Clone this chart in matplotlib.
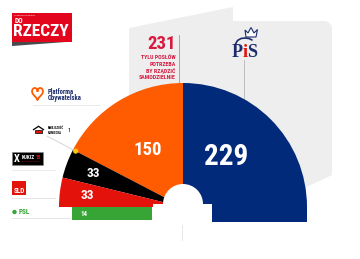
import numpy as np
import matplotlib
matplotlib.use('Agg')
import matplotlib.pyplot as plt
from matplotlib.patches import Wedge, Rectangle, Polygon, Circle

# ---- data ----
right_parties = ['PiS']
right_seats = [229]
left_parties = ['PO', "Kukiz'15", 'SLD']
left_seats = [150, 33, 33]
bar_parties = ['PSL']
bar_seats = [14]
mn_seats = [1]
majority = [231]
majority_caption = ['TYLU POSŁÓW', 'POTRZEBA', 'BY RZĄDZIĆ', 'SAMODZIELNIE']

# ---- style ----
BLUE = '#022a7a'
ORANGE = '#ff5b00'
BLACK = '#000000'
RED = '#e3120b'
GREEN = '#37a536'
CRIMSON = '#d7193f'
NAVY = '#1c2c6c'
PANEL = '#eeeeee'
SERIF = ['Liberation Serif', 'DejaVu Serif']
NARROW = ['Roboto Condensed', 'DejaVu Sans']

W, H = 360, 259
fig = plt.figure(figsize=(3.6, 2.59), dpi=100)
ax = fig.add_axes([0, 0, 1, 1])
ax.set_xlim(0, W)
ax.set_ylim(H, 0)
ax.axis('off')


def T(x, y, s, size, color, ha='left', bold=True, z=5):
    ax.text(x, y, s, color=color, fontsize=size, fontweight='bold' if bold else 'normal',
            family=NARROW, fontstretch='condensed', ha=ha, va='center', zorder=z)


# ---- gray panel ----
corner = [(324 + 8 * np.cos(a), 29 - 8 * np.sin(a)) for a in np.linspace(np.pi / 2, 0, 8)]
panel = [(129, 28), (233, 7), (233, 21)] + corner + [(332, 175), (290, 195), (129, 195)]
ax.add_patch(Polygon(panel, closed=True, fc=PANEL, ec='none', zorder=0))

# ---- hemicycle ----
cx, cy, R = 183, 207, 124


def add_wedge(phi1, phi2, color):
    ax.add_patch(Wedge((cx, cy), R, -phi2, -phi1, fc=color, ec='none', zorder=2))


right_colors = [BLUE]
left_colors = [ORANGE, BLACK, RED]
label_pos = []

r_scale = 90.0 / sum(right_seats)
a = 0.0
for s, c in zip(right_seats, right_colors):
    a2 = a + s * r_scale
    add_wedge(a, a2, c)
    label_pos.append(((a + a2) / 2 + 4, 66, s, 21))
    a = a2
ax.add_patch(Rectangle((cx, cy), R, 15, fc=BLUE, ec='none', zorder=2))

l_scale = 90.0 / sum(left_seats)
a = 90.0
bounds = []
for i, (s, c) in enumerate(zip(left_seats, left_colors)):
    a2 = a + s * l_scale
    add_wedge(a, a2, c)
    if i == 0:
        label_pos.append(((a + a2) / 2, 67, s, 13.5))
    else:
        label_pos.append(((a + a2) / 2, 96, s, 9.5))
    bounds.append(a2)
    a = a2

for ang, r, s, fs in label_pos:
    x = cx + r * np.cos(np.radians(ang))
    y = cy - r * np.sin(np.radians(ang))
    T(x, y, str(s), fs, 'white', ha='center')

# PSL bar
px_per_seat = 80 / 14
ax.barh([213.5], [-v * px_per_seat for v in bar_seats], left=152, height=13,
        color=GREEN, zorder=2)
T(84, 213.5, str(bar_seats[0]), 5, 'white', ha='center')

# dome
ax.add_patch(Circle((183, 204), 20, fc='white', ec='none', zorder=3))
ax.add_patch(Rectangle((153, 204), 59, 30, fc='white', ec='none', zorder=3))
ax.plot([182, 182], [225, 240], color='#e4e4e4', lw=0.6, zorder=4)

# ---- majority annotation ----
ax.plot([179, 179], [35, 83], color='#e57a90', lw=0.6, zorder=1)
T(175.5, 44, str(majority[0]), 13.5, CRIMSON, ha='right')
for k, line in enumerate(majority_caption):
    T(175.5, 57.5 + k * 6.6, line, 4.2, CRIMSON, ha='right')

# ---- PiS logo ----
ax.plot([244, 244], [60, 99], color='#b5b5b5', lw=0.6, zorder=1)
ax.text(231.5, 57, 'P', color=NAVY, fontsize=13, fontweight='bold', family=SERIF,
        ha='left', va='baseline', zorder=5)
ax.text(242.3, 57, 'i', color=RED, fontsize=13, fontweight='bold', family=SERIF,
        ha='left', va='baseline', zorder=5)
ax.text(247.5, 57, 'S', color=NAVY, fontsize=13, fontweight='bold', family=SERIF,
        ha='left', va='baseline', zorder=5)
crown = [(246, 37), (245, 30), (248, 33), (251, 27.5), (254, 33), (257.5, 29.5), (256, 37)]
ax.add_patch(Polygon(crown, closed=True, fc='white', ec=NAVY, lw=0.8, zorder=5))
ax.plot([235.5, 237.5, 241, 245, 249, 252], [44, 40.5, 38.5, 38, 38.5, 40],
        color=NAVY, lw=1.2, zorder=5, solid_capstyle='round')

# ---- Do Rzeczy logo ----
ax.add_patch(Polygon([(12, 42), (66, 42), (12, 46)], closed=True, fc='#4a4a4a', ec='none', zorder=1))
ax.add_patch(Rectangle((12, 13), 60, 29, fc='#e3051b', ec='none', zorder=2))
T(14, 16.0, 'TYGODNIK LISICKIEGO', 1.7, 'white', bold=False)
T(14.5, 21.3, 'DO', 5.3, 'white')
T(13.5, 31.8, 'RZECZY', 12.5, 'white')

# ---- left legend ----
# PO
t = np.linspace(0, 2 * np.pi, 80)
hx = 16 * np.sin(t) ** 3
hy = 13 * np.cos(t) - 5 * np.cos(2 * t) - 2 * np.cos(3 * t) - np.cos(4 * t)
ax.plot(37.5 + hx * 0.34, 93 - hy * 0.42, color=ORANGE, lw=1.3, zorder=5)
T(48, 92, 'Platforma', 4.8, NAVY)
T(48, 98.5, 'Obywatelska', 4.8, NAVY)
ax.plot([33, 100], [105, 105], color='#e6e6e6', lw=0.6, zorder=1)

# MN
ax.add_patch(Polygon([(33, 130), (38.5, 126.3), (44, 130)], closed=False, fill=False,
                     ec=BLACK, lw=0.9, zorder=5))
ax.add_patch(Rectangle((35, 129.5), 7, 3.7, fc=RED, ec=BLACK, lw=0.5, zorder=5))
T(48, 128.3, 'MNIEJSZOŚĆ', 2.2, BLACK)
T(48, 132.5, 'NIEMIECKA', 2.2, BLACK)
T(67.5, 131, str(mn_seats[0]), 4.5, BLACK, bold=False)
ang = np.radians(bounds[0])
dx, dy = cx + 121 * np.cos(ang), cy - 121 * np.sin(ang)
ax.plot([47, dx], [136, dy], color='#cfcfcf', lw=0.6, zorder=4)
ax.add_patch(Circle((dx, dy), 2.6, fc='#ffc20e', ec='none', zorder=6))

# Kukiz
ax.add_patch(Rectangle((12, 152), 31, 13, fc=BLACK, ec='#888888', lw=0.4, zorder=5))
T(17, 158.5, 'X', 7.5, 'white', ha='center', z=6)
T(22, 157.5, 'KUKIZ', 3.8, 'white', z=6)
T(35.8, 157.5, '15', 3.8, RED, z=6)
T(22.5, 161.8, 'RUCH OBYWATELSKI', 1.5, '#c0101a', bold=False, z=6)
ax.plot([12, 55], [170, 170], color='#e6e6e6', lw=0.6, zorder=1)

# SLD
ax.add_patch(Rectangle((12, 181), 14, 13.5, fc=RED, ec='none', zorder=5))
T(19, 191.0, 'SLD', 5.2, 'white', ha='center', z=6)
ax.plot([12, 55], [198, 198], color='#e0e0e0', lw=0.6, zorder=1)

# PSL
ax.add_patch(Circle((14.5, 212), 2.2, fc=GREEN, ec='none', zorder=5))
T(18.3, 212, bar_parties[0], 5.2, GREEN)
ax.plot([12, 70], [218, 218], color='#e0e0e0', lw=0.6, zorder=1)

fig.savefig('out.png', dpi=100, facecolor='white')
